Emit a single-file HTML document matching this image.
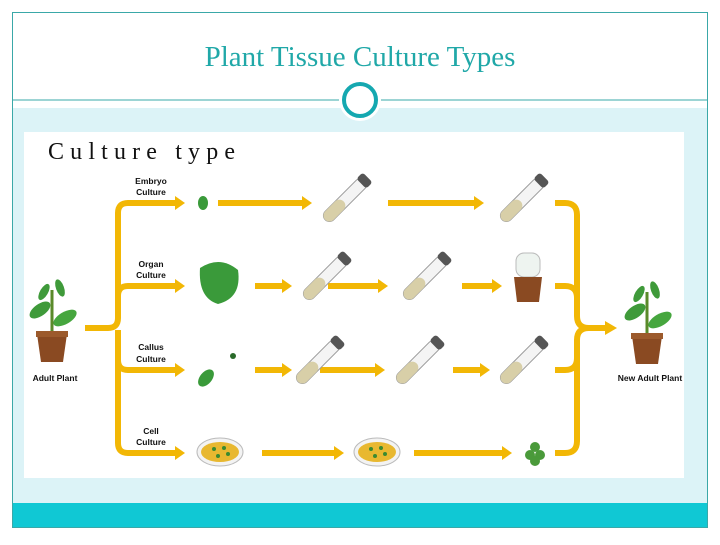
<!DOCTYPE html>
<html><head><style>
body{margin:0;width:720px;height:540px;background:#fff;overflow:hidden;font-family:"Liberation Sans",sans-serif}
</style></head><body>
<svg width="720" height="540" viewBox="0 0 720 540" xmlns="http://www.w3.org/2000/svg">
<defs>
<g id="tube">
 <rect x="-6" y="-28" width="12" height="56" rx="6" fill="#f4f4f4" stroke="#999" stroke-width="1"/>
 <rect x="-6" y="2" width="12" height="26" rx="6" fill="#d8cfa8"/>
 <rect x="-7" y="-32" width="14" height="9" rx="3" fill="#555"/>
</g>
<g id="plant">
 <path d="M0 -5 L0 -50" stroke="#5a8a2a" stroke-width="3"/>
 <ellipse cx="-12" cy="-30" rx="12" ry="6" fill="#3f9a3a" transform="rotate(-35 -12 -30)"/>
 <ellipse cx="13" cy="-22" rx="13" ry="6" fill="#46a63e" transform="rotate(-30 13 -22)"/>
 <ellipse cx="-8" cy="-48" rx="9" ry="4" fill="#3f9a3a" transform="rotate(-60 -8 -48)"/>
 <ellipse cx="8" cy="-52" rx="9" ry="4" fill="#3f9a3a" transform="rotate(-110 8 -52)"/>
 <path d="M-15 -6 L15 -6 L11 22 L-11 22 Z" fill="#8a4a22"/>
 <rect x="-16" y="-9" width="32" height="6" fill="#9c5a2c"/>
</g>
<g id="dish">
 <ellipse cx="0" cy="0" rx="23" ry="14" fill="#f3f3f3" stroke="#bbb"/>
 <ellipse cx="0" cy="0" rx="19" ry="10" fill="#e8b830"/>
 <circle cx="-6" cy="-3" r="2" fill="#3a8a30"/><circle cx="4" cy="-4" r="2" fill="#3a8a30"/><circle cx="8" cy="2" r="2" fill="#3a8a30"/><circle cx="-2" cy="4" r="2" fill="#3a8a30"/>
</g>
</defs>
<rect x="12.5" y="12.5" width="695" height="515" fill="#fff" stroke="#3aa8a8"/>
<rect x="13" y="108" width="694" height="395" fill="#dcf3f7"/>
<rect x="13" y="503" width="694" height="24" fill="#10c8d4"/>
<line x1="13" y1="100" x2="707" y2="100" stroke="#3aa8a8"/>
<circle cx="360" cy="100" r="21" fill="#fff"/>
<circle cx="360" cy="100" r="16" fill="#fff" stroke="#15a8b0" stroke-width="4"/>
<text x="360" y="66" text-anchor="middle" font-family="Liberation Serif,serif" font-size="29" fill="#20a8a8">Plant Tissue Culture Types</text>
<rect x="24" y="132" width="660" height="346" fill="#fff"/>
<text x="48" y="159" font-family="Liberation Serif,serif" font-size="24" fill="#111" textLength="187" lengthAdjust="spacing">Culture type</text>

<g fill="none" stroke="#f2b705" stroke-width="6">
 <path d="M85 328 H108 Q118 328 118 318 V213 Q118 203 128 203 H175"/>
 <path d="M118 330 V443 Q118 453 128 453 H175"/>
 <path d="M118 296 Q118 286 128 286 H175"/>
 <path d="M118 360 Q118 370 128 370 H175"/>
 <path d="M555 203 H565 Q577 203 577 215 V316 Q577 328 589 328 H605"/>
 <path d="M555 453 H565 Q577 453 577 441 V340 Q577 328 589 328"/>
 <path d="M555 286 H565 Q577 286 577 298"/>
 <path d="M555 370 H565 Q577 370 577 358"/>
 <path d="M218 203 H302"/><path d="M388 203 H474"/>
 <path d="M255 286 H282"/><path d="M328 286 H378"/><path d="M462 286 H492"/>
 <path d="M255 370 H282"/><path d="M320 370 H375"/><path d="M453 370 H480"/>
 <path d="M262 453 H334"/><path d="M414 453 H502"/>
</g>
<g fill="#f2b705">
 <polygon points="175,196 185,203 175,210"/><polygon points="175,279 185,286 175,293"/>
 <polygon points="175,363 185,370 175,377"/><polygon points="175,446 185,453 175,460"/>
 <polygon points="302,196 312,203 302,210"/><polygon points="474,196 484,203 474,210"/>
 <polygon points="282,279 292,286 282,293"/><polygon points="378,279 388,286 378,293"/><polygon points="492,279 502,286 492,293"/>
 <polygon points="282,363 292,370 282,377"/><polygon points="375,363 385,370 375,377"/><polygon points="480,363 490,370 480,377"/>
 <polygon points="334,446 344,453 334,460"/><polygon points="502,446 512,453 502,460"/>
 <polygon points="605,321 617,328 605,335"/>
</g>
<g font-size="8.5" fill="#111" text-anchor="middle" font-weight="bold">
 <text x="151" y="184">Embryo</text><text x="151" y="195">Culture</text>
 <text x="151" y="267">Organ</text><text x="151" y="278">Culture</text>
 <text x="151" y="350">Callus</text><text x="151" y="362">Culture</text>
 <text x="151" y="434">Cell</text><text x="151" y="445">Culture</text>
 <text x="55" y="381">Adult Plant</text>
 <text x="650" y="381">New Adult Plant</text>
</g>
<use href="#plant" x="52" y="340"/>
<use href="#plant" x="647" y="342"/>
<ellipse cx="203" cy="203" rx="5" ry="7" fill="#3a9a3a"/>
<path d="M200 268 Q220 255 238 270 Q242 298 218 304 Q198 298 200 268Z" fill="#3a9a3a"/>
<ellipse cx="206" cy="378" rx="6" ry="10" fill="#3a9a3a" transform="rotate(40 206 378)"/>
<circle cx="233" cy="356" r="3" fill="#2a6a2a"/>
<g transform="translate(345 200) rotate(45)"><use href="#tube"/></g>
<g transform="translate(522 200) rotate(45)"><use href="#tube"/></g>
<g transform="translate(325 278) rotate(45)"><use href="#tube"/></g>
<g transform="translate(425 278) rotate(45)"><use href="#tube"/></g>
<g transform="translate(318 362) rotate(45)"><use href="#tube"/></g>
<g transform="translate(418 362) rotate(45)"><use href="#tube"/></g>
<g transform="translate(522 362) rotate(45)"><use href="#tube"/></g>
<rect x="516" y="253" width="24" height="24" rx="8" fill="#eef4f0" stroke="#bbb"/>
<path d="M514 277 H542 L539 302 H517Z" fill="#8a4a22"/>
<use href="#dish" x="220" y="452"/>
<use href="#dish" x="377" y="452"/>
<circle cx="535" cy="447" r="5" fill="#4a9a3a"/><circle cx="530" cy="455" r="5" fill="#4a9a3a"/><circle cx="540" cy="455" r="5" fill="#4a9a3a"/><circle cx="535" cy="461" r="5" fill="#4a9a3a"/>
</svg>
</body></html>
